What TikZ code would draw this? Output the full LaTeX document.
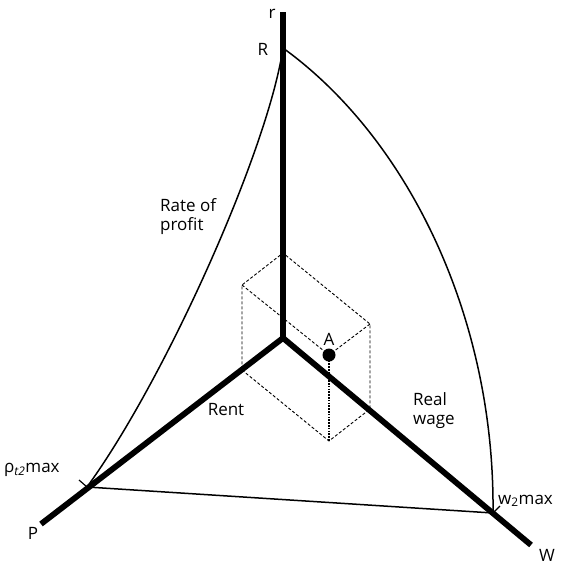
\documentclass[tikz,border=0pt]{standalone}
\usepackage{fontspec}
\setmainfont{Open Sans}
\begin{document}
\begin{tikzpicture}[x=1pt,y=-1pt,
  axis/.style={line width=5.8pt, line cap=butt},
  thin/.style={line width=1.5pt},
  boxedge/.style={line width=0.9pt, dash pattern=on 3pt off 2pt},
  denseedge/.style={line width=1.1pt, dash pattern=on 1.6pt off 1.2pt},
  tickmark/.style={line width=1.2pt},
  lab/.style={font=\fontsize{17}{19}\selectfont, inner sep=0pt}]
\useasboundingbox (0,0) rectangle (566,566);
% key points
\coordinate (O) at (283,338);
\coordinate (rtop) at (283,12);
\coordinate (R) at (283,48);
\coordinate (Pend) at (41,524);
\coordinate (Wend) at (531,545);
\coordinate (rho) at (87,487);
\coordinate (wmax) at (493,513);
% box vertices
\coordinate (Pa) at (242,370);
\coordinate (Wa) at (370,409);
\coordinate (Ra) at (283,253);
\coordinate (PW) at (329,441);
\coordinate (PR) at (242,285);
\coordinate (WR) at (370,324);
\coordinate (A) at (329,355);
% dashed box
\draw[boxedge] (Pa) -- (PW) -- (Wa) -- (WR) -- (Ra) -- (PR) -- (Pa);
\draw[boxedge] (PR) -- (A) -- (WR);
\draw[denseedge] (A) -- (PW);
% curves and base
\draw[thin] (R) .. controls (268,150) and (165,380) .. (rho);
\draw[thin] (R) .. controls (410,140) and (495,320) .. (wmax);
\draw[thin] (rho) -- (wmax);
% ticks
\draw[tickmark] (rho) -- ++(-8,-7);
\draw[tickmark] (wmax) -- ++(7,-7);
% axes
\draw[axis] (O) -- (rtop);
\draw[axis] (O) -- (Pend);
\draw[axis] (O) -- (Wend);
\fill (A) circle (6.5);
% labels
\node[lab] (lr) at (272,14) {r};
\node[lab] (lR) at (263,49) {R};
\node[lab, align=left, anchor=north west] (lrate) at (160,198) {Rate of\\profit};
\node[lab] (lA) at (329,339) {A};
\node[lab, align=left, anchor=north west] (lwage) at (413,392) {Real\\wage};
\node[lab] (lrent) at (226,410) {Rent};
\node[lab, anchor=west] (lrho) at (4,470) {ρ\textsubscript{\itshape t2}max};
\node[lab, anchor=west] (lw) at (498,501) {w\textsubscript{2}max};
\node[lab] (lP) at (33,533) {P};
\node[lab] (lW) at (547,555) {W};
\end{tikzpicture}
\end{document}
